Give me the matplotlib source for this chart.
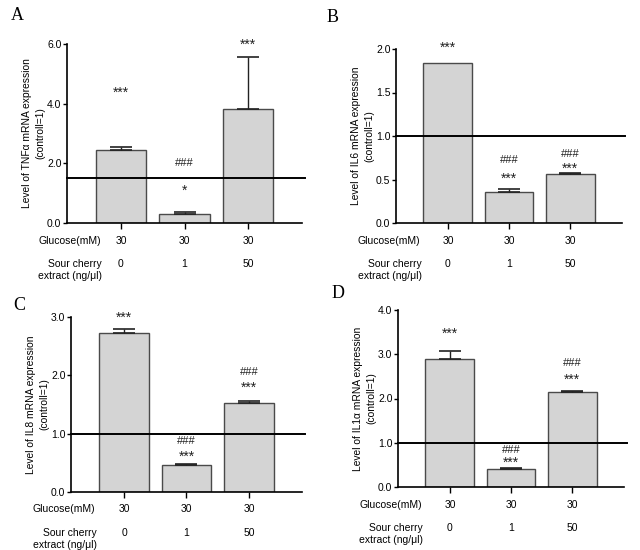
import matplotlib
matplotlib.use('Agg')
import matplotlib.pyplot as plt
from matplotlib.transforms import ScaledTranslation

plt.rcParams['font.family'] = ['Liberation Sans', 'DejaVu Sans']

# data
glucose = ['30', '30', '30']
extract = ['0', '1', '50']

tnf_mean = [2.45, 0.30, 3.83]
tnf_err = [0.10, 0.07, 1.74]
tnf_marks = [[('***', 4.46)], [('###', 2.0), ('*', 1.17)], [('***', 6.07)]]

il6_mean = [1.84, 0.36, 0.56]
il6_err = [0.0, 0.03, 0.01]
il6_marks = [[('***', 2.05)], [('###', 0.72), ('***', 0.54)], [('###', 0.79), ('***', 0.66)]]

il8_mean = [2.72, 0.46, 1.53]
il8_err = [0.08, 0.02, 0.03]
il8_marks = [[('***', 3.03)], [('###', 0.87), ('***', 0.65)], [('###', 2.05), ('***', 1.83)]]

il1_mean = [2.90, 0.40, 2.14]
il1_err = [0.18, 0.04, 0.04]
il1_marks = [[('***', 3.52)], [('###', 0.83), ('***', 0.62)], [('###', 2.8), ('***', 2.5)]]

W, H = 640, 550
fig = plt.figure(figsize=(6.4, 5.5), dpi=100)


def panel(letter, lpos, box, ymax, yticks, mean, err, marks, ylabel, hline, glab_dx):
    l, r, t, b = box
    ax = fig.add_axes([l / W, 1 - b / H, (r - l) / W, (b - t) / H])
    x = list(range(len(mean)))
    ax.bar(x, mean, width=0.8, color='#d4d4d4', edgecolor='#4a4a4a', linewidth=1.0, zorder=2)
    for i in x:
        if err[i] > 0:
            ax.errorbar(i, mean[i], yerr=[[0], [err[i]]], fmt='none', ecolor='#222222',
                        elinewidth=1.0, capsize=8, capthick=1.2, zorder=3)
    star_shift = ScaledTranslation(0, -3 / 100, fig.dpi_scale_trans)
    for i in x:
        for s, y in marks[i]:
            if s.startswith('*'):
                ax.text(i, y, s, ha='center', va='center', fontsize=10, color='#222222',
                        transform=ax.transData + star_shift)
            else:
                ax.text(i, y, s, ha='center', va='center', fontsize=8, color='#222222')
    ax.axhline(hline, xmin=0, xmax=1.012, color='black', linewidth=1.4, clip_on=False, zorder=4)
    ax.set_xlim(-0.85, 2.85)
    ax.set_ylim(0, ymax)
    ax.set_yticks(yticks)
    ax.set_yticklabels(['%.1f' % v for v in yticks])
    ax.set_xticks(x)
    ax.set_xticklabels([])
    ax.tick_params(axis='y', length=3, width=1, labelsize=7.5, pad=1)
    ax.tick_params(axis='x', length=4, width=1)
    for sp in ['top', 'right']:
        ax.spines[sp].set_visible(False)
    for sp in ['left', 'bottom']:
        ax.spines[sp].set_linewidth(1.2)
    ax.set_ylabel(ylabel, fontsize=7.4, labelpad=1, linespacing=1.5)

    tr1 = ax.get_xaxis_transform() + ScaledTranslation(0, -0.175, fig.dpi_scale_trans)
    tr2 = ax.get_xaxis_transform() + ScaledTranslation(0, -0.36, fig.dpi_scale_trans)
    for i in x:
        ax.text(i, 0, glucose[i], transform=tr1, ha='center', va='center', fontsize=7.5)
        ax.text(i, 0, extract[i], transform=tr2, ha='center', va='top', fontsize=7.5)
    ax.text(glab_dx, 0, 'Glucose(mM)', transform=tr1, ha='right', va='center', fontsize=7.5)
    ax.text(glab_dx + 0.02, 0, 'Sour cherry\nextract (ng/\u03bcl)', transform=tr2,
            ha='right', va='top', fontsize=7.5, linespacing=1.22, multialignment='right')
    fig.text(lpos[0] / W, 1 - lpos[1] / H, letter, family='Liberation Serif',
             fontsize=13, ha='center', va='center')
    return ax


panel('A', (17, 16), (67, 302, 44, 223), 6.0, [0.0, 2.0, 4.0, 6.0], tnf_mean, tnf_err, tnf_marks,
      'Level of TNF\u03b1 mRNA expression\n(controll=1)', 1.5, -0.32)
panel('B', (333, 18), (396, 622, 49, 223), 2.0, [0.0, 0.5, 1.0, 1.5, 2.0], il6_mean, il6_err, il6_marks,
      'Level of IL6 mRNA expression\n(controll=1)', 1.0, -0.45)
panel('C', (19, 306), (71, 302, 317, 492), 3.0, [0.0, 1.0, 2.0, 3.0], il8_mean, il8_err, il8_marks,
      'Level of IL8 mRNA expression\n(controll=1)', 1.0, -0.46)
panel('D', (338, 293), (398, 624, 310, 487), 4.0, [0.0, 1.0, 2.0, 3.0, 4.0], il1_mean, il1_err, il1_marks,
      'Level of IL1\u03b1 mRNA expression\n(controll=1)', 1.0, -0.46)

fig.savefig('out.png', dpi=100)
